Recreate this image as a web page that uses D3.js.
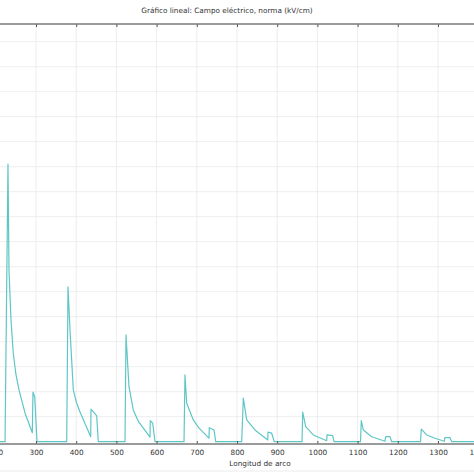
<!DOCTYPE html>
<html>
<head>
<meta charset="utf-8">
<script src="https://cdn.jsdelivr.net/npm/d3@7"></script>
<style>
  html, body { margin: 0; padding: 0; background: #fff; }
  svg { display: block; font-family: "DejaVu Sans", sans-serif; }
</style>
</head>
<body>
<svg id="chart" width="474" height="474"></svg>
<script>
// ---- Data ----
const title = "Gráfico lineal: Campo eléctrico, norma (kV/cm)";
const xLabel = "Longitud de arco";
const xTicks = [200, 300, 400, 500, 600, 700, 800, 900, 1000, 1100, 1200, 1300, 1400];
const yGrid = [0, 1, 2, 3, 4, 5, 6, 7, 8, 9, 10, 11, 12, 13, 14, 15, 16];

const arcLength = [
  190, 223, 230.3, 232.8, 237.8, 243.5, 250, 257.7, 272.6, 290.8, 292.5, 296.8, 302.5,
  376.4, 379.6, 384.6, 392.8, 400, 409.5, 436.1, 436.8, 451, 455,
  521.4, 523.9, 531.3, 542, 555, 583.6, 584.3, 590.3, 596,
  668.2, 670.6, 674.9, 691.3, 705, 730.3, 731.1, 742.8, 747,
  811.7, 815.7, 824.1, 844.8, 876.4, 877.1, 886.3, 892.8,
  961.7, 963.4, 970.9, 989.8, 1023.1, 1023.9, 1038, 1041.3,
  1107.2, 1109.2, 1114.2, 1135.1, 1168.2, 1169.9, 1180.6, 1184.8,
  1256.5, 1258.5, 1271.9, 1292.5, 1315.7, 1316.9, 1329.9, 1334.1,
  1430
];
const fieldNorm = [
  0, 0, 11.1, 6.87, 4.87, 3.54, 2.7, 2.07, 1.15, 0.36, 1.98, 1.79, 0,
  0, 6.19, 4.47, 2.07, 1.6, 1.19, 0.2, 1.3, 1.03, 0,
  0, 4.27, 2.2, 1.27, 0.8, 0.18, 0.84, 0.74, 0,
  0, 2.67, 1.54, 0.87, 0.55, 0.14, 0.56, 0.47, 0,
  0, 1.74, 0.87, 0.47, 0.07, 0.38, 0.34, 0,
  0, 1.18, 0.6, 0.27, 0.04, 0.27, 0.24, 0,
  0, 0.84, 0.47, 0.2, 0.02, 0.2, 0.2, 0,
  0, 0.5, 0.27, 0.14, 0.02, 0.16, 0.16, 0,
  0
];

// ---- Layout ----
const svg = d3.select("#chart");
const W = 474, H = 474;
const plotTop = 24, plotBottom = 444;
const x = d3.scaleLinear().domain([300, 1300]).range([36, 438]);
const y = d3.scaleLinear().domain([0, 16]).range([441.7, 41.7]);

svg.append("rect").attr("width", W).attr("height", H).attr("fill", "#fff");

// Title
svg.append("text")
  .attr("x", 227).attr("y", 13)
  .attr("text-anchor", "middle")
  .attr("font-size", 7.3)
  .attr("fill", "#333")
  .text(title);

// Grid
const grid = svg.append("g").attr("stroke", "#e8e8e8").attr("stroke-width", 0.8);
grid.selectAll("line.v").data(xTicks).join("line")
  .attr("class", "v")
  .attr("x1", d => x(d)).attr("x2", d => x(d))
  .attr("y1", plotTop).attr("y2", plotBottom);
grid.selectAll("line.h").data(yGrid.filter(d => d > 0)).join("line")
  .attr("class", "h")
  .attr("x1", 0).attr("x2", W)
  .attr("y1", d => y(d)).attr("y2", d => y(d));

// Data line
const line = d3.line().x(d => x(d[0])).y(d => y(d[1]));
svg.append("path")
  .datum(arcLength.map((a, i) => [a, fieldNorm[i]]))
  .attr("d", line)
  .attr("fill", "none")
  .attr("stroke", "#5fc6c6")
  .attr("stroke-width", 1.2)
  .attr("stroke-linejoin", "round");

// Bottom axis
const bottomAxis = svg.append("g")
  .attr("transform", `translate(0,${plotBottom})`)
  .call(d3.axisBottom(x).tickValues(xTicks).tickSize(-3).tickPadding(6).tickSizeOuter(0).tickFormat(d3.format("d")));
bottomAxis.select(".domain").remove();
bottomAxis.append("line").attr("x1", 0).attr("x2", W).attr("stroke", "#7a7a7a").attr("stroke-width", 1.6);
bottomAxis.selectAll(".tick line").attr("stroke", "#555").attr("stroke-width", 1);
bottomAxis.selectAll(".tick text")
  .attr("fill", "#333")
  .attr("font-size", 7.3)
  .attr("font-family", "DejaVu Sans, sans-serif");

// Top axis
const topAxis = svg.append("g")
  .attr("transform", `translate(0,${plotTop})`)
  .call(d3.axisTop(x).tickValues(xTicks).tickSize(-3).tickFormat(""));
topAxis.select(".domain").remove();
topAxis.append("line").attr("x1", 0).attr("x2", W).attr("stroke", "#7a7a7a").attr("stroke-width", 1.6);
topAxis.selectAll(".tick line").attr("stroke", "#555").attr("stroke-width", 1);

// X label
svg.append("text")
  .attr("x", 260).attr("y", 466)
  .attr("text-anchor", "middle")
  .attr("font-size", 7.3)
  .attr("fill", "#333")
  .text(xLabel);

// faint bottom border
svg.append("line").attr("x1", 0).attr("x2", W).attr("y1", 471).attr("y2", 471)
  .attr("stroke", "#ececec").attr("stroke-width", 1);
</script>
</body>
</html>
